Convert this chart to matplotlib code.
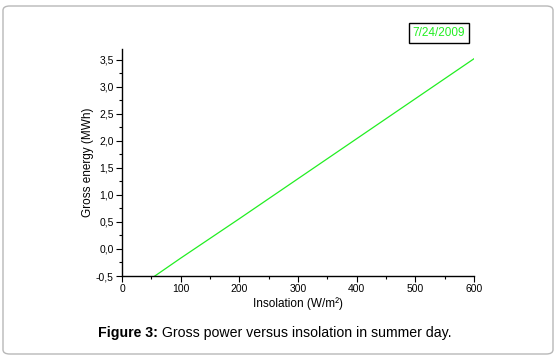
import matplotlib
matplotlib.use("Agg")
import matplotlib.pyplot as plt
from matplotlib.patches import FancyBboxPatch
from matplotlib.ticker import MultipleLocator, FuncFormatter

insolation = [56, 100, 200, 300, 400, 500, 600]
gross_energy = [-0.5, -0.17, 0.56, 1.30, 2.04, 2.78, 3.52]
x_ticks = [0, 100, 200, 300, 400, 500, 600]
y_ticks = [-0.5, 0.0, 0.5, 1.0, 1.5, 2.0, 2.5, 3.0, 3.5]
date_label = "7/24/2009"

plt.rcParams['font.family'] = ['Liberation Sans', 'DejaVu Sans']

W, H = 560, 358
fig = plt.figure(figsize=(W/100, H/100), dpi=100)
fig.patch.set_facecolor('white')

# rounded border
border = FancyBboxPatch((3/W, 4/H), (553-3)/W, (352-4)/H,
                        boxstyle="round,pad=0,rounding_size=0.012",
                        transform=fig.transFigure, fill=False,
                        edgecolor='#b8b8b8', linewidth=1.0)
fig.patches.append(border)

ax = fig.add_axes([122/W, 1-276/H, (474-122)/W, (276-49)/H])
ax.plot(insolation, gross_energy, color='#22ee22', linewidth=0.9)
ax.set_xlim(0, 600)
ax.set_ylim(-0.5, 3.7)
ax.set_xticks(x_ticks)
ax.set_yticks(y_ticks)
ax.xaxis.set_minor_locator(MultipleLocator(50))
ax.yaxis.set_minor_locator(MultipleLocator(0.25))
ax.yaxis.set_major_formatter(FuncFormatter(lambda v, p: f"{v:.1f}".replace('.', ',')))
for s in ['top', 'right']:
    ax.spines[s].set_visible(False)
for s in ['left', 'bottom']:
    ax.spines[s].set_linewidth(1.0)
ax.tick_params(which='major', direction='out', length=4, width=0.8, labelsize=7.5, pad=2)
ax.tick_params(which='minor', direction='out', length=2.5, width=0.8)
ax.set_xlabel("Insolation (W/m²)", fontsize=8.5, labelpad=2)
ax.set_ylabel("Gross energy (MWh)", fontsize=8.5, labelpad=1)

fig.text(439/W, 1-33/H, date_label, color='#22ee22', fontsize=8.5,
         ha='center', va='center',
         bbox=dict(boxstyle='square,pad=0.35', facecolor='white', edgecolor='black', linewidth=1.0))

t1 = fig.text(98/W, 1-333/H, "Figure 3:", fontsize=10.2, fontweight='bold', ha='left', va='center')
fig.canvas.draw()
bb = t1.get_window_extent(renderer=fig.canvas.get_renderer())
fig.text(bb.x1/W, 1-333/H, " Gross power versus insolation in summer day.", fontsize=10.2,
         ha='left', va='center')

fig.savefig("out.png", dpi=100)
